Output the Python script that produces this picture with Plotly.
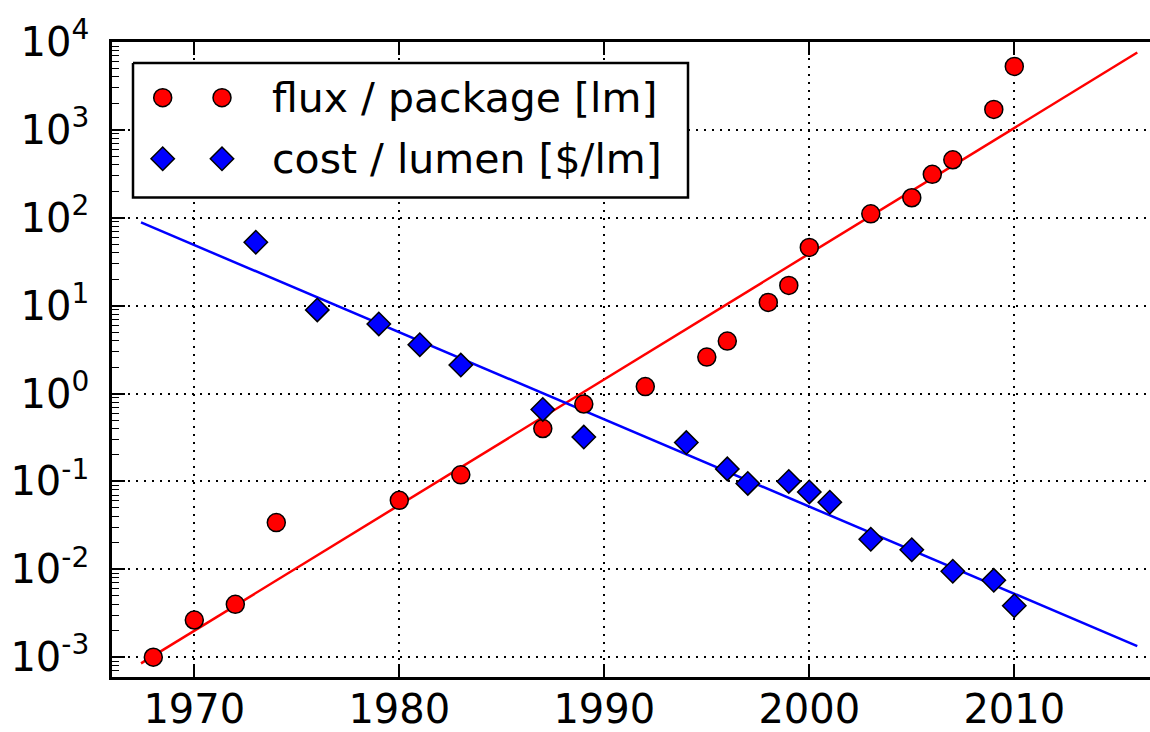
import plotly.graph_objects as go

# ---- data ----
flux_years = [1968, 1970, 1972, 1974, 1980, 1983, 1987, 1989, 1992, 1995,
              1996, 1998, 1999, 2000, 2003, 2005, 2006, 2007, 2009, 2010]
flux_values = [0.001, 0.00265, 0.0040, 0.034, 0.061, 0.119, 0.40, 0.76, 1.2, 2.6,
               3.95, 10.9, 17.0, 46.0, 111, 169, 312, 457, 1710, 5270]

cost_years = [1973, 1976, 1979, 1981, 1983, 1987, 1989, 1994, 1996, 1997,
              1999, 2000, 2001, 2003, 2005, 2007, 2009, 2010]
cost_values = [52.7, 8.95, 6.2, 3.6, 2.11, 0.66, 0.32, 0.277, 0.139, 0.095,
               0.10, 0.076, 0.058, 0.022, 0.0167, 0.0095, 0.0075, 0.00385]

fit_years = [1967.4, 2016.0]
flux_fit = [0.00085, 7590]
cost_fit = [88.5, 0.00134]

x_tick_vals = [1970, 1980, 1990, 2000, 2010]
y_exponents = [-3, -2, -1, 0, 1, 2, 3, 4]
y_tick_vals = [10.0 ** e for e in y_exponents]
y_tick_text = ["10<sup>%s</sup>" % e for e in y_exponents]

legend_labels = ["flux / package [lm]", "cost / lumen [$/lm]"]

RED = "#ff0000"
BLUE = "#0000ff"
FONT = "DejaVu Sans"

circle_marker = dict(symbol="circle", size=18, color=RED,
                     line=dict(color="black", width=1.5))
diamond_marker = dict(symbol="diamond", size=18, color=BLUE,
                      line=dict(color="black", width=1.5))

fig = go.Figure()

fig.add_trace(go.Scatter(x=fit_years, y=flux_fit, mode="lines",
                         line=dict(color=RED, width=2.5), showlegend=False,
                         hoverinfo="skip"))
fig.add_trace(go.Scatter(x=fit_years, y=cost_fit, mode="lines",
                         line=dict(color=BLUE, width=2.5), showlegend=False,
                         hoverinfo="skip"))
fig.add_trace(go.Scatter(x=flux_years, y=flux_values, mode="markers",
                         marker=circle_marker, name=legend_labels[0],
                         showlegend=False))
fig.add_trace(go.Scatter(x=cost_years, y=cost_values, mode="markers",
                         marker=diamond_marker, name=legend_labels[1],
                         showlegend=False))

# ---- hand-drawn legend (box + two sample markers per entry), in pixel units ----
fig.add_trace(go.Scatter(x=[133, 688, 688, 133, 133],
                         y=[63.3, 63.3, 199.3, 199.3, 63.3],
                         mode="lines", fill="toself", fillcolor="white",
                         line=dict(color="black", width=2.5),
                         xaxis="x2", yaxis="y2", showlegend=False, hoverinfo="skip"))
fig.add_trace(go.Scatter(x=[162.7, 222.0], y=[98.3, 98.3], mode="markers",
                         marker=circle_marker, xaxis="x2", yaxis="y2",
                         showlegend=False, hoverinfo="skip"))
fig.add_trace(go.Scatter(x=[162.7, 222.0], y=[160.0, 160.0], mode="markers",
                         marker=diamond_marker, xaxis="x2", yaxis="y2",
                         showlegend=False, hoverinfo="skip"))

for label, ypix in zip(legend_labels, [98.3, 160.0]):
    fig.add_annotation(x=270, y=ypix, xref="x2", yref="y2", text=label,
                       showarrow=False, xanchor="left", yanchor="middle",
                       font=dict(family=FONT, size=41, color="black"))

grid_dash = "2px,6px"

fig.update_layout(
    width=1150, height=732,
    margin=dict(l=112, r=0, t=42, b=48, pad=0),
    paper_bgcolor="white", plot_bgcolor="white",
    font=dict(family=FONT, size=40, color="black"),
    showlegend=False,
    xaxis=dict(
        range=[1965.985, 2016.62],
        tickvals=x_tick_vals, ticktext=[str(v) for v in x_tick_vals],
        ticks="inside", ticklen=13, tickwidth=1.5, tickcolor="black",
        showline=True, linecolor="black", linewidth=2.5, mirror="ticks",
        showgrid=True, gridcolor="black", gridwidth=1.5, griddash=grid_dash,
        zeroline=False, ticklabelstandoff=-5,
        tickfont=dict(family=FONT, size=40, color="black"),
    ),
    yaxis=dict(
        type="log", range=[-3.225, 4],
        tickvals=y_tick_vals, ticktext=y_tick_text,
        ticks="inside", ticklen=13, tickwidth=1.5, tickcolor="black",
        showline=True, linecolor="black", linewidth=2.5, mirror=False,
        showgrid=True, gridcolor="black", gridwidth=1.5, griddash=grid_dash,
        zeroline=False, ticklabelstandoff=12,
        minor=dict(ticks="inside", ticklen=7, tickwidth=1.2, tickcolor="black",
                   dtick="D1", showgrid=False),
        tickfont=dict(family=FONT, size=40, color="black"),
    ),
    xaxis2=dict(overlaying="x", anchor="y2", range=[112, 1150], visible=False,
                fixedrange=True),
    yaxis2=dict(overlaying="y", anchor="x2", range=[684, 42], visible=False,
                fixedrange=True),
)

# remove the default page margin so the figure sits at the window's top-left corner
fig.write_html("out.html",
               config={"displayModeBar": False},
               post_script="document.body.style.margin='0';"
                           "document.body.style.overflow='hidden';")
